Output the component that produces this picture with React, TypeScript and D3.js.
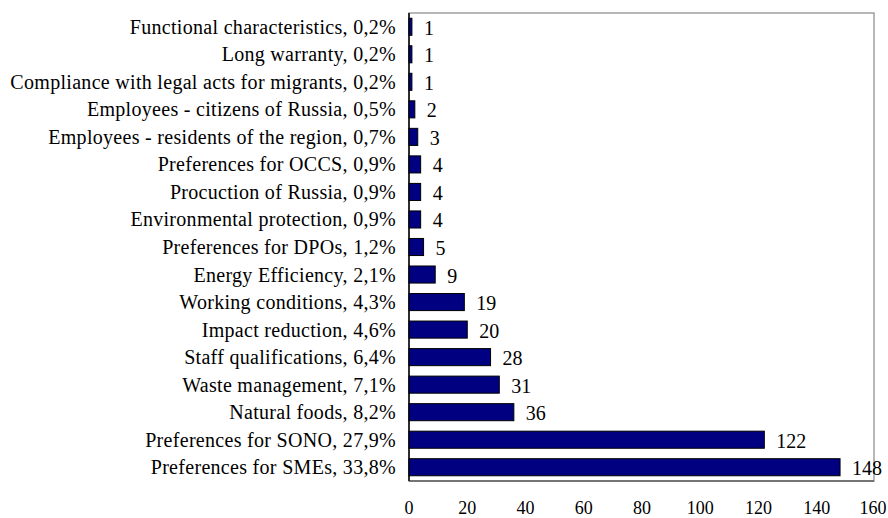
import * as d3 from "d3";

const categories = [
  "Functional characteristics, 0,2%",
  "Long warranty, 0,2%",
  "Compliance with legal acts for migrants, 0,2%",
  "Employees - citizens of Russia, 0,5%",
  "Employees - residents of the region, 0,7%",
  "Preferences for OCCS, 0,9%",
  "Procuction of Russia, 0,9%",
  "Environmental protection, 0,9%",
  "Preferences for DPOs, 1,2%",
  "Energy Efficiency, 2,1%",
  "Working conditions, 4,3%",
  "Impact reduction, 4,6%",
  "Staff qualifications, 6,4%",
  "Waste management, 7,1%",
  "Natural foods, 8,2%",
  "Preferences for SONO, 27,9%",
  "Preferences for SMEs, 33,8%",
];
const values = [1, 1, 1, 2, 3, 4, 4, 4, 5, 9, 19, 20, 28, 31, 36, 122, 148];
const ticks = [0, 20, 40, 60, 80, 100, 120, 140, 160];

const WIDTH = 888;
const HEIGHT = 518;
const LEFT = 409;
const RIGHT = 875;
const TOP = 13;
const BOTTOM = 481;
const FONT = "'Liberation Serif', 'Times New Roman', serif";
const FS = 20;

export default function App() {
  const x = d3.scaleLinear().domain([0, 160]).range([LEFT, RIGHT]);
  const y = d3
    .scaleBand<string>()
    .domain(categories)
    .range([TOP, BOTTOM])
    .paddingInner(0.38)
    .paddingOuter(0.19);

  return (
    <svg
      width={WIDTH}
      height={HEIGHT}
      style={{ position: "absolute", left: 0, top: 0, background: "#fff" }}
    >
      {/* plot frame */}
      <rect
        x={LEFT}
        y={TOP}
        width={874 - LEFT}
        height={BOTTOM - TOP}
        fill="none"
        stroke="#a0a0a0"
        strokeWidth={1.5}
      />
      <line x1={LEFT} x2={LEFT} y1={TOP} y2={BOTTOM} stroke="#000" strokeWidth={1.5} />
      <line x1={LEFT} x2={874} y1={BOTTOM} y2={BOTTOM} stroke="#333" strokeWidth={1.2} />

      {categories.map((c, i) => {
        const yy = y(c)!;
        const bh = y.bandwidth();
        return (
          <g key={c}>
            <rect
              x={x(0)}
              y={yy}
              width={x(values[i]) - x(0)}
              height={bh}
              fill="#000080"
              stroke="#000"
              strokeWidth={1}
            />
            <text
              x={396}
              y={yy + bh / 2}
              textAnchor="end"
              dominantBaseline="central"
              fontFamily={FONT}
              fontSize={FS}
              letterSpacing={0.3}
              fill="#000"
            >
              {c}
            </text>
            <text
              x={x(values[i]) + 12}
              y={yy + bh / 2 + 1}
              dominantBaseline="central"
              fontFamily={FONT}
              fontSize={FS}
              fill="#000"
            >
              {values[i]}
            </text>
          </g>
        );
      })}

      {ticks.map((t) => (
        <text
          key={t}
          x={t === 160 ? 873 : x(t)}
          y={514}
          textAnchor="middle"
          fontFamily={FONT}
          fontSize={18}
          fill="#000"
        >
          {t}
        </text>
      ))}
    </svg>
  );
}
